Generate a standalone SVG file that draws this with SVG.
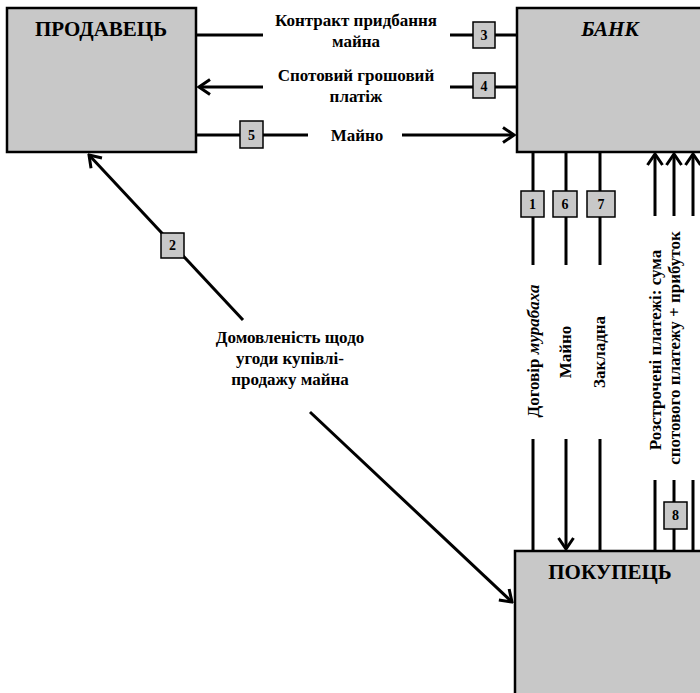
<svg xmlns="http://www.w3.org/2000/svg" width="700" height="693" viewBox="0 0 700 693">
<style>
.node{fill:#c8c8c8;stroke:#000;stroke-width:2.5}
.ln{stroke:#000;stroke-width:3;fill:none}
.tag{fill:#c8c8c8;stroke:#000;stroke-width:1.5}
.t{font-family:"Liberation Serif","DejaVu Serif",serif;font-weight:bold;fill:#000}
.title{font-size:21px}
.lbl{font-size:17px}
.num{font-size:14px;text-anchor:middle}
</style>
<defs>
<marker id="ah" viewBox="-13 -9 15 18" refX="0" refY="0" markerWidth="15" markerHeight="18" markerUnits="userSpaceOnUse" orient="auto">
<path d="M-11,-7.5 L0,0 L-11,7.5" fill="none" stroke="#000" stroke-width="3"/>
</marker>
</defs>
<rect width="700" height="693" fill="#fff"/>
<g id="seller">
<rect class="node" x="7" y="8" width="189" height="144"/>
<text class="t title" x="101" y="36" text-anchor="middle">ПРОДАВЕЦЬ</text>
</g>
<g id="bank">
<rect class="node" x="517" y="8" width="190" height="144"/>
<text class="t title" x="610" y="36" text-anchor="middle" font-style="italic">БАНК</text>
</g>
<g id="buyer">
<rect class="node" x="515" y="551" width="192" height="150"/>
<text class="t title" x="610" y="579" text-anchor="middle">ПОКУПЕЦЬ</text>
</g>
<g id="connectors">
<line class="ln" x1="196" y1="35" x2="263" y2="35"/>
<line class="ln" x1="450" y1="35" x2="517" y2="35"/>
<line class="ln" x1="263" y1="87" x2="199" y2="87" marker-end="url(#ah)"/>
<line class="ln" x1="450" y1="87" x2="517" y2="87"/>
<line class="ln" x1="196" y1="135" x2="308" y2="135"/>
<line class="ln" x1="402" y1="135" x2="514" y2="135" marker-end="url(#ah)"/>
<line class="ln" x1="243" y1="320" x2="89" y2="155" marker-end="url(#ah)"/>
<line class="ln" x1="310" y1="412" x2="512" y2="602" marker-end="url(#ah)"/>
<line class="ln" x1="533" y1="152" x2="533" y2="265"/>
<line class="ln" x1="566" y1="152" x2="566" y2="265"/>
<line class="ln" x1="600" y1="152" x2="600" y2="265"/>
<line class="ln" x1="533" y1="439" x2="533" y2="551"/>
<line class="ln" x1="566" y1="439" x2="566" y2="549" marker-end="url(#ah)"/>
<line class="ln" x1="600" y1="439" x2="600" y2="551"/>
<line class="ln" x1="655" y1="216" x2="655" y2="154" marker-end="url(#ah)"/>
<line class="ln" x1="674" y1="216" x2="674" y2="154" marker-end="url(#ah)"/>
<line class="ln" x1="693" y1="216" x2="693" y2="154" marker-end="url(#ah)"/>
<line class="ln" x1="655" y1="480" x2="655" y2="551"/>
<line class="ln" x1="674" y1="480" x2="674" y2="551"/>
<line class="ln" x1="693" y1="480" x2="693" y2="551"/>
</g>
<g id="tags">
<rect class="tag" x="473" y="22" width="22" height="26"/><text class="t num" x="484" y="40">3</text>
<rect class="tag" x="473" y="73" width="22" height="25"/><text class="t num" x="484" y="91">4</text>
<rect class="tag" x="240" y="121" width="23" height="27"/><text class="t num" x="251.5" y="140">5</text>
<rect class="tag" x="161" y="233" width="23" height="25"/><text class="t num" x="172.5" y="250">2</text>
<rect class="tag" x="521" y="191" width="23" height="26"/><text class="t num" x="532.5" y="209">1</text>
<rect class="tag" x="553" y="191" width="24" height="26"/><text class="t num" x="565" y="209">6</text>
<rect class="tag" x="587" y="191" width="28" height="26"/><text class="t num" x="601" y="209">7</text>
<rect class="tag" x="664" y="502" width="23" height="27"/><text class="t num" x="675.5" y="520">8</text>
</g>
<g id="labels">
<text class="t lbl" x="356" y="26" text-anchor="middle">Контракт придбання</text>
<text class="t lbl" x="356" y="47" text-anchor="middle">майна</text>
<text class="t lbl" x="356" y="81" text-anchor="middle">Спотовий грошовий</text>
<text class="t lbl" x="356" y="102" text-anchor="middle">платіж</text>
<text class="t lbl" x="357" y="141" text-anchor="middle">Майно</text>
<text class="t lbl" x="290" y="343" text-anchor="middle">Домовленість щодо</text>
<text class="t lbl" x="290" y="364" text-anchor="middle">угоди купівлі-</text>
<text class="t lbl" x="290" y="385" text-anchor="middle">продажу майна</text>
<text class="t lbl" transform="translate(539,351) rotate(-90)" text-anchor="middle">Договір <tspan font-style="italic">мурабаха</tspan></text>
<text class="t lbl" transform="translate(571,352) rotate(-90)" text-anchor="middle">Майно</text>
<text class="t lbl" transform="translate(605,352) rotate(-90)" text-anchor="middle">Закладна</text>
<text class="t lbl" transform="translate(661,350) rotate(-90)" text-anchor="middle">Розстрочені платежі: сума</text>
<text class="t lbl" transform="translate(680,348) rotate(-90)" text-anchor="middle">спотового платежу + прибуток</text>
</g>
</svg>
